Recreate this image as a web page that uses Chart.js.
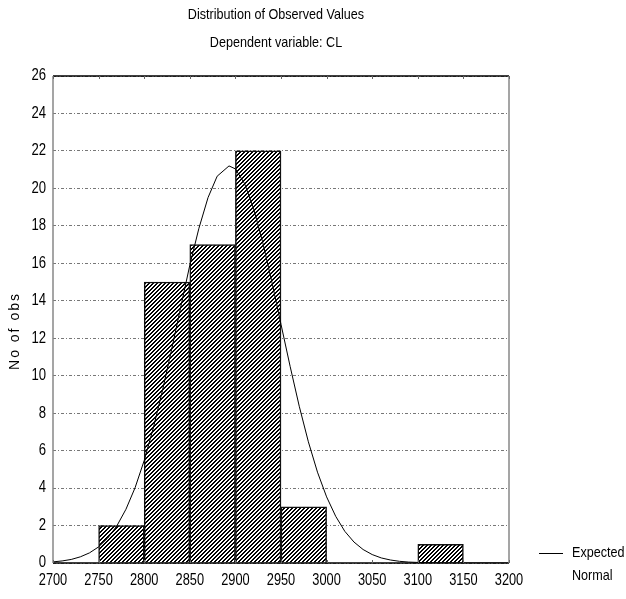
<!DOCTYPE html>
<html>
<head>
<meta charset="utf-8">
<script src="https://cdn.jsdelivr.net/npm/chart.js@4.4.1/dist/chart.umd.min.js"></script>
<style>
  html, body { margin: 0; padding: 0; background: #fff; }
  canvas { display: block; }
</style>
</head>
<body>
<canvas id="histPlot" width="626" height="599"></canvas>
<script>
// histogram bins (lower edge) and counts
const binStart = [2750, 2800, 2850, 2900, 2950, 3100];
const binWidth = 50;
const obsCount = [2, 15, 17, 22, 3, 1];

// expected normal curve
const curveX = [2700, 2710, 2720, 2730, 2740, 2750, 2760, 2770, 2780, 2790,
                2800, 2810, 2820, 2830, 2840, 2850, 2860, 2870, 2880, 2893,
                2900, 2910, 2920, 2930, 2940, 2950, 2960, 2970, 2980, 2990,
                3000, 3010, 3020, 3030, 3040, 3050, 3060, 3070, 3080, 3090,
                3100, 3120, 3140, 3200];
const curveY = [0.06, 0.11, 0.19, 0.33, 0.54, 0.86, 1.33, 1.98, 2.87, 4.02,
                5.47, 7.21, 9.2, 11.38, 13.65, 15.9, 17.87, 19.51, 20.65, 21.2,
                21.04, 20.26, 18.91, 17.11, 15.0, 12.74, 10.5, 8.37, 6.47, 4.85,
                3.53, 2.49, 1.69, 1.12, 0.72, 0.45, 0.27, 0.16, 0.09, 0.05,
                0.03, 0.01, 0, 0];

const xMin = 2700, xMax = 3200, xStep = 50;
const yMin = 0, yMax = 26, yStep = 2;

const titleText = 'Distribution of Observed Values';
const subtitleText = 'Dependent variable: CL';
const yTitle = 'No of obs';
const legendLines = ['Expected', 'Normal'];

const FONT = "'Liberation Sans', Arial, sans-serif";
Chart.defaults.font.family = FONT;
Chart.defaults.color = '#000';

// no narrow font installed, so squeeze text horizontally
function narrowText(ctx, text, x, y, align, squeeze) {
    ctx.save();
    ctx.translate(x, y);
    ctx.scale(squeeze, 1);
    ctx.textAlign = align;
    ctx.fillText(text, 0, 0);
    ctx.restore();
}

function hatchPattern() {
    const c = document.createElement('canvas');
    c.width = 4; c.height = 4;
    const g = c.getContext('2d');
    g.fillStyle = '#fff';
    g.fillRect(0, 0, 4, 4);
    g.fillStyle = '#000';
    for (let r = 0; r < 4; r++) {
        g.fillRect((3 - r + 4) % 4, r, 1, 1);
        g.fillRect((4 - r + 4) % 4, r, 1, 1);
    }
    return g.createPattern(c, 'repeat');
}

const decorPlugin = {
    id: 'decor',
    afterDatasetsDraw(chart) {
        const ctx = chart.ctx;
        const a = chart.chartArea;
        const xs = chart.scales.x;
        ctx.save();
        // frame
        ctx.lineWidth = 1.5;
        ctx.strokeStyle = '#000';
        ctx.beginPath();
        ctx.moveTo(a.left, a.top); ctx.lineTo(a.right, a.top);
        ctx.moveTo(a.left, a.bottom); ctx.lineTo(a.right, a.bottom);
        ctx.stroke();
        ctx.strokeStyle = '#888';
        ctx.beginPath();
        ctx.moveTo(a.right, a.top); ctx.lineTo(a.right, a.bottom);
        ctx.moveTo(a.left, a.top); ctx.lineTo(a.left, a.bottom);
        ctx.stroke();
        // small inward ticks on top and bottom
        ctx.strokeStyle = '#666';
        ctx.lineWidth = 1;
        xs.ticks.forEach(t => {
            const px = Math.round(xs.getPixelForValue(t.value)) + 0.5;
            ctx.beginPath();
            ctx.moveTo(px, a.top); ctx.lineTo(px, a.top + 3);
            ctx.moveTo(px, a.bottom); ctx.lineTo(px, a.bottom - 3);
            ctx.stroke();
        });
        ctx.restore();
    },
    afterDraw(chart) {
        const ctx = chart.ctx;
        const a = chart.chartArea;
        const xs = chart.scales.x;
        const ys = chart.scales.y;
        const cx = (a.left + a.right) / 2 - 5;
        ctx.save();
        ctx.fillStyle = '#000';
        ctx.textBaseline = 'middle';

        // titles
        ctx.font = '15px ' + FONT;
        narrowText(ctx, titleText, cx, 15, 'center', 0.84);
        narrowText(ctx, subtitleText, cx, 43, 'center', 0.84);

        // tick labels
        ctx.font = '16px ' + FONT;
        xs.ticks.forEach(t => {
            narrowText(ctx, String(t.value), xs.getPixelForValue(t.value), a.bottom + 18, 'center', 0.8);
        });
        ys.ticks.forEach(t => {
            narrowText(ctx, String(t.value), a.left - 7, ys.getPixelForValue(t.value), 'right', 0.82);
        });

        // y axis title
        ctx.save();
        ctx.translate(15, 331);
        ctx.rotate(-Math.PI / 2);
        ctx.font = '14px ' + FONT;
        ctx.letterSpacing = '2px';
        ctx.textAlign = 'center';
        ctx.fillText(yTitle, 0, 0);
        ctx.restore();

        // legend
        ctx.strokeStyle = '#000';
        ctx.lineWidth = 1;
        ctx.beginPath();
        ctx.moveTo(a.right + 30, a.bottom - 9.5);
        ctx.lineTo(a.right + 54, a.bottom - 9.5);
        ctx.stroke();
        ctx.font = '15px ' + FONT;
        narrowText(ctx, legendLines[0], a.right + 63, a.bottom - 10, 'left', 0.84);
        narrowText(ctx, legendLines[1], a.right + 63, a.bottom + 13, 'left', 0.84);
        ctx.restore();
    }
};

function createPlot() {
    const ctx = document.getElementById('histPlot').getContext('2d');
    const curveData = curveX.map((x, i) => ({ x: x, y: curveY[i] }));
    const barData = binStart.map((b, i) => ({ x: b + binWidth / 2, y: obsCount[i] }));

    new Chart(ctx, {
        data: {
            datasets: [{
                type: 'line',
                label: legendLines.join(' '),
                data: curveData,
                borderColor: '#000',
                borderWidth: 1,
                pointRadius: 0,
                tension: 0,
                fill: false
            }, {
                type: 'bar',
                label: 'Observed',
                data: barData,
                backgroundColor: hatchPattern(),
                borderColor: '#111',
                borderWidth: 1.5,
                barPercentage: 1,
                categoryPercentage: 1,
                grouped: false
            }]
        },
        options: {
            responsive: false,
            animation: false,
            layout: { padding: { left: 0, right: 117, top: 76, bottom: 0 } },
            plugins: {
                legend: { display: false },
                title: { display: false },
                tooltip: { enabled: false }
            },
            scales: {
                x: {
                    type: 'linear',
                    min: xMin,
                    max: xMax,
                    offset: false,
                    ticks: { stepSize: xStep, display: false },
                    grid: { display: false, drawTicks: false },
                    border: { display: false },
                    afterFit: s => { s.height = 36; }
                },
                y: {
                    min: yMin,
                    max: yMax,
                    ticks: { stepSize: yStep, display: false },
                    grid: {
                        color: '#777',
                        lineWidth: 1,
                        drawTicks: false
                    },
                    border: { display: false, dash: [3, 2, 1, 2] },
                    afterFit: s => { s.width = 53; }
                }
            }
        },
        plugins: [decorPlugin]
    });
}

document.addEventListener('DOMContentLoaded', createPlot);
</script>
</body>
</html>
